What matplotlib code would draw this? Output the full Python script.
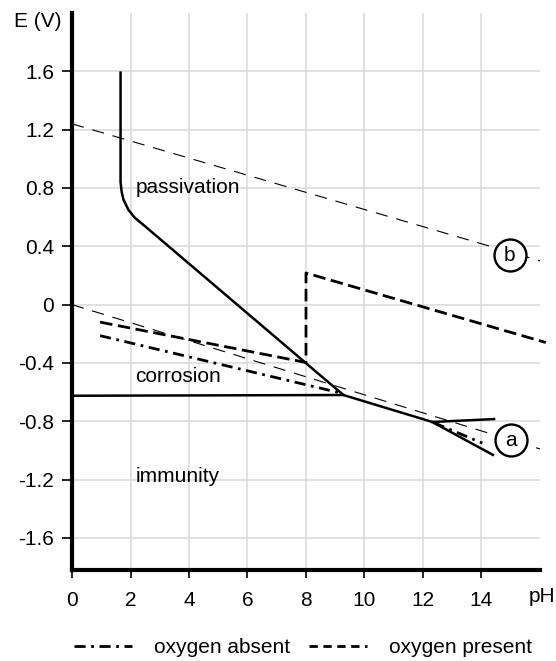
import matplotlib.pyplot as plt
from matplotlib.lines import Line2D

plt.rcParams['font.family'] = ['Liberation Sans', 'DejaVu Sans']

# passivation / corrosion boundary (solid)
pass_ph = [1.66, 1.66, 1.70, 1.76, 1.93, 2.15, 2.50, 9.28, 12.32, 14.43]
pass_e = [1.60, 0.84, 0.77, 0.72, 0.65, 0.595, 0.537, -0.62, -0.805, -1.035]
immun_ph = [0.0, 9.28]
immun_e = [-0.625, -0.62]
alk_ph = [12.32, 14.43]
alk_e = [-0.805, -0.785]

# water stability lines (thin dashed)
line_a_ph = [0.0, 16.0]
line_a_e = [0.0, -0.99]
line_b_ph = [0.0, 16.0]
line_b_e = [1.24, 0.30]

# oxygen present (thick dashed)
o2_ph = [0.96, 7.98, 8.0, 8.0, 16.2]
o2_e = [-0.12, -0.396, -0.396, 0.217, -0.26]

# oxygen absent (dash-dot)
no_o2_ph = [0.96, 9.18]
no_o2_e = [-0.213, -0.606]
no_o2_alk_ph = [12.37, 14.03]
no_o2_alk_e = [-0.81, -0.95]

xticks = [0, 2, 4, 6, 8, 10, 12, 14]
yticks = [1.6, 1.2, 0.8, 0.4, 0, -0.4, -0.8, -1.2, -1.6]
ylabels = ['1.6', '1.2', '0.8', '0.4', '0', '-0.4', '-0.8', '-1.2', '-1.6']

fig = plt.figure(figsize=(5.56, 6.61), dpi=100)
ax = fig.add_axes([0.1295, 0.1377, 0.8417, 0.8426])
ax.set_xlim(0, 16)
ax.set_ylim(-1.82, 2.0)

# grid
for x in xticks[1:]:
    ax.axvline(x, color='#d9d9d9', lw=1.1, zorder=0)
for y in yticks:
    ax.axhline(y, color='#d9d9d9', lw=1.1, zorder=0)

fs = 15
ax.plot(pass_ph, pass_e, color='black', lw=1.8, solid_capstyle='butt')
ax.plot(immun_ph, immun_e, color='black', lw=1.8)
ax.plot(alk_ph, alk_e, color='black', lw=1.8)

ax.plot(line_a_ph, line_a_e, color='black', lw=0.8, dashes=(11, 8))
ax.plot(line_b_ph, line_b_e, color='black', lw=0.8, dashes=(11, 8))

ax.plot(o2_ph, o2_e, color='black', lw=2.0, dashes=(4.5, 2), clip_on=False)
ax.plot(no_o2_ph, no_o2_e, color='black', lw=2.0, dashes=(4, 2, 1, 2))
ax.plot(no_o2_alk_ph, no_o2_alk_e, color='black', lw=2.0, dashes=(4, 2, 1, 2))

# circled labels
for cx, cy, s in [(15.0, -0.93, 'a'), (14.97, 0.34, 'b')]:
    ax.plot([cx], [cy], marker='o', ms=23, mfc='white', mec='black', mew=1.7, zorder=5)
    ax.text(cx, cy, s, ha='center', va='center', fontsize=fs, zorder=6)

ax.text(2.19, 0.8, 'passivation', fontsize=fs, va='center')
ax.text(2.16, -0.49, 'corrosion', fontsize=fs, va='center')
ax.text(2.16, -1.18, 'immunity', fontsize=fs, va='center')

for side in ['top', 'right']:
    ax.spines[side].set_visible(False)
ax.spines['left'].set_linewidth(3)
ax.spines['bottom'].set_linewidth(3)

ax.set_xticks(xticks)
ax.set_yticks(yticks)
ax.set_yticklabels(ylabels)
ax.tick_params(axis='y', length=7, width=1.2, pad=6, labelsize=fs)
ax.tick_params(axis='x', length=6, width=1.2, pad=9, labelsize=fs)

ax.text(-1.18, 1.94, 'E (V)', fontsize=fs, ha='center', va='center', clip_on=False)
ax.text(16.07, -2.0, 'pH', fontsize=fs, ha='center', va='center', clip_on=False)

handles = [Line2D([], [], color='black', lw=2.0, dashes=(4, 2, 1, 2)),
           Line2D([], [], color='black', lw=2.0, dashes=(3, 2))]
fig.legend(handles, ['oxygen absent', 'oxygen present'], loc='center',
           bbox_to_anchor=(0.545, 0.02), ncol=2, frameon=False, fontsize=fs,
           handlelength=2.8, handletextpad=1.05, columnspacing=0.9)

fig.savefig('out.png', dpi=100)
